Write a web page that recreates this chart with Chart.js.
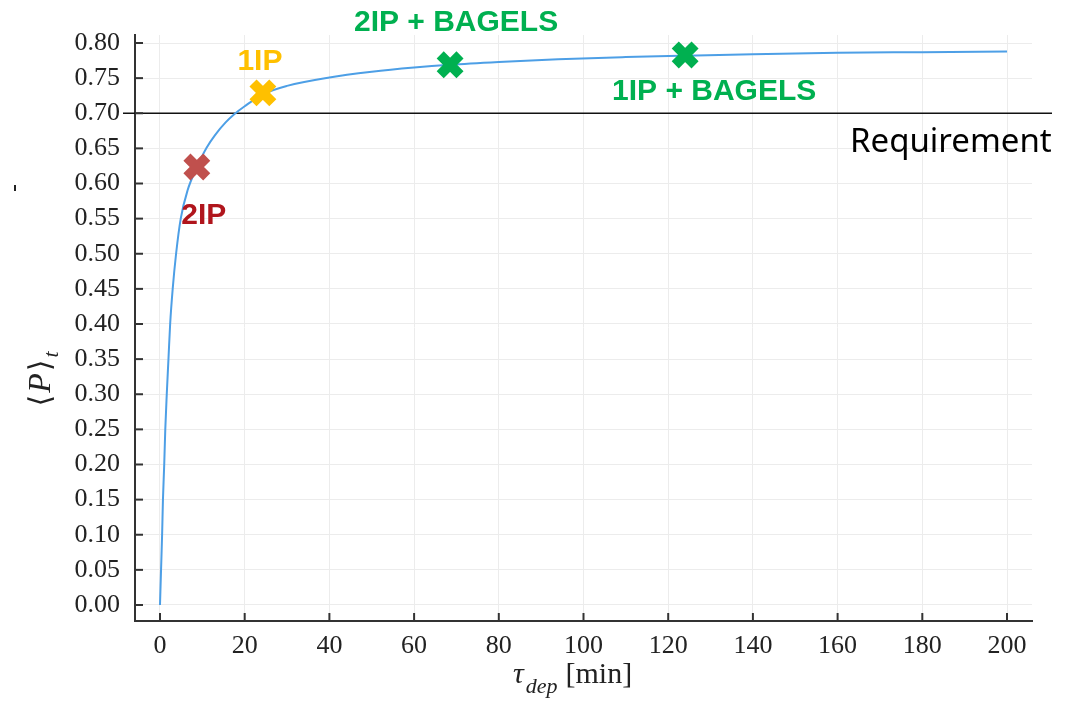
<!DOCTYPE html>
<html>
<head>
<meta charset="utf-8">
<script src="https://cdn.jsdelivr.net/npm/chart.js@4.4.1/dist/chart.umd.min.js"></script>
<style>
  html, body { margin: 0; padding: 0; background: #fff; }
  canvas { display: block; }
</style>
</head>
<body>
<canvas id="chart" width="1078" height="701" style="width:1078px;height:701px"></canvas>
<script>
// curve
const curveTau = [0, 0.25, 0.5, 0.7, 1.0, 1.25, 1.6, 2.0, 2.4, 3.0, 3.8, 4.9, 6.5, 8.7, 11, 13, 15.5, 17.6, 20, 24.3, 30, 40, 50, 60, 68.5, 80, 94, 110, 124, 140, 160, 180, 200];
const curveP   = [0, 0.05, 0.10, 0.15, 0.20, 0.25, 0.30, 0.35, 0.40, 0.45, 0.50, 0.55, 0.59, 0.623, 0.651, 0.669, 0.687, 0.699, 0.710, 0.727, 0.739, 0.751, 0.759, 0.765, 0.769, 0.773, 0.777, 0.780, 0.782, 0.784, 0.786, 0.787, 0.788];

const markerNames = ['2IP', '1IP', '2IP + BAGELS', '1IP + BAGELS'];
const markerTau = [8.7, 24.3, 68.5, 124];
const markerP = [0.6235, 0.729, 0.769, 0.783];

const requirement = 0.70;
const xTicks = [0, 20, 40, 60, 80, 100, 120, 140, 160, 180, 200];
const yTicks = [0, 0.05, 0.10, 0.15, 0.20, 0.25, 0.30, 0.35, 0.40, 0.45, 0.50, 0.55, 0.60, 0.65, 0.70, 0.75, 0.80];

// styling
const markerColors = ['#c0504d', '#ffc000', '#00b050', '#00b050'];
const labelColors = ['#b0151c', '#ffc000', '#00b050', '#00b050'];
const labelOffsets = [[7, 57], [-3, -23], [6, -34], [29, 45]]; // px from marker, text baseline centre
const serif = "'Liberation Serif', 'DejaVu Serif', serif";
const axisColor = '#333';

const overlay = {
    id: 'overlay',
    beforeDatasetsDraw(chart) {
        const { ctx, scales: { x, y }, chartArea } = chart;
        ctx.save();
        // requirement line, runs past the plot on both sides
        const ry = y.getPixelForValue(requirement);
        ctx.strokeStyle = '#111';
        ctx.lineWidth = 1.5;
        ctx.beginPath();
        ctx.moveTo(123, ry);
        ctx.lineTo(1052, ry);
        ctx.stroke();

        // ticks pointing inwards
        ctx.strokeStyle = axisColor;
        ctx.lineWidth = 2;
        xTicks.forEach(v => {
            const px = x.getPixelForValue(v);
            ctx.beginPath();
            ctx.moveTo(px, chartArea.bottom);
            ctx.lineTo(px, chartArea.bottom - 8);
            ctx.stroke();
        });
        yTicks.forEach(v => {
            const py = y.getPixelForValue(v);
            ctx.beginPath();
            ctx.moveTo(chartArea.left, py);
            ctx.lineTo(chartArea.left + 8, py);
            ctx.stroke();
        });

        // stray mark at the far left of the original
        ctx.strokeStyle = '#222';
        ctx.beginPath();
        ctx.moveTo(15, 185);
        ctx.lineTo(15, 191);
        ctx.stroke();

        ctx.fillStyle = '#000';
        ctx.font = "33px 'Noto Sans', sans-serif";
        ctx.textAlign = 'left';
        ctx.textBaseline = 'alphabetic';
        ctx.fillText('Requirement', 850, 152);
        ctx.restore();
    },
    afterDatasetsDraw(chart) {
        const { ctx, scales: { x, y } } = chart;
        ctx.save();
        // marker labels
        ctx.font = "bold 30px 'Liberation Sans', Arial, sans-serif";
        ctx.textAlign = 'center';
        ctx.textBaseline = 'alphabetic';
        markerNames.forEach((name, i) => {
            const px = x.getPixelForValue(markerTau[i]);
            const py = y.getPixelForValue(markerP[i]);
            ctx.fillStyle = labelColors[i];
            ctx.fillText(name, px + labelOffsets[i][0], py + labelOffsets[i][1]);
        });

        // x title: tau_dep [min]
        ctx.fillStyle = '#222';
        ctx.textAlign = 'left';
        let tx = 513;
        ctx.font = 'italic 30px ' + serif;
        ctx.fillText('τ', tx, 683);
        tx += ctx.measureText('τ').width + 2;
        ctx.font = 'italic 22px ' + serif;
        ctx.fillText('dep', tx, 693);
        tx += ctx.measureText('dep').width + 8;
        ctx.font = '30px ' + serif;
        ctx.fillText('[min]', tx, 683);

        // y title: <P>_t rotated
        ctx.translate(50, 378);
        ctx.rotate(-Math.PI / 2);
        const parts = [
            ['⟨', '30px ' + serif, 0],
            ['P', 'italic 32px ' + serif, 0],
            ['⟩', '30px ' + serif, 0],
            ['t', 'italic 22px ' + serif, 8]
        ];
        let total = 0;
        parts.forEach(p => { ctx.font = p[1]; total += ctx.measureText(p[0]).width + 2; });
        let ox = -total / 2;
        parts.forEach(p => {
            ctx.font = p[1];
            ctx.fillText(p[0], ox, p[2]);
            ox += ctx.measureText(p[0]).width + 2;
        });
        ctx.restore();
    }
};

const ctx = document.getElementById('chart').getContext('2d');
new Chart(ctx, {
    type: 'scatter',
    data: {
        datasets: [
            {
                label: 'markers',
                data: markerTau.map((t, i) => ({ x: t, y: markerP[i] })),
                pointStyle: 'crossRot',
                pointRadius: 14,
                pointHoverRadius: 14,
                pointBorderWidth: 10,
                pointHoverBorderWidth: 10,
                pointBorderColor: markerColors,
                pointBackgroundColor: markerColors,
                showLine: false,
                order: 0
            },
            {
                label: 'curve',
                data: curveTau.map((t, i) => ({ x: t, y: curveP[i] })),
                showLine: true,
                borderColor: '#4d9fe6',
                borderWidth: 2,
                pointRadius: 0,
                cubicInterpolationMode: 'monotone',
                order: 1
            }
        ]
    },
    options: {
        responsive: false,
        devicePixelRatio: 1,
        animation: false,
        events: [],
        layout: { padding: { top: 35, right: 46, left: 0, bottom: 0 } },
        plugins: {
            legend: { display: false },
            tooltip: { enabled: false }
        },
        scales: {
            x: {
                type: 'linear',
                min: -5.9,
                max: 205.9,
                afterBuildTicks: s => { s.ticks = xTicks.map(v => ({ value: v })); },
                afterFit: s => { s.height = 80; },
                ticks: {
                    font: { family: serif, size: 26 },
                    color: '#222',
                    padding: 10,
                    maxRotation: 0,
                    autoSkip: false
                },
                grid: { color: '#ececec', lineWidth: 1, drawTicks: false },
                border: { color: axisColor, width: 2 }
            },
            y: {
                type: 'linear',
                min: -0.0228,
                max: 0.8114,
                afterBuildTicks: s => { s.ticks = yTicks.map(v => ({ value: v })); },
                afterFit: s => { s.width = 135; },
                ticks: {
                    font: { family: serif, size: 26 },
                    color: '#222',
                    padding: 15,
                    autoSkip: false,
                    callback: v => v.toFixed(2)
                },
                grid: { color: '#ececec', lineWidth: 1, drawTicks: false },
                border: { color: axisColor, width: 2 }
            }
        }
    },
    plugins: [overlay]
});
</script>
</body>
</html>
